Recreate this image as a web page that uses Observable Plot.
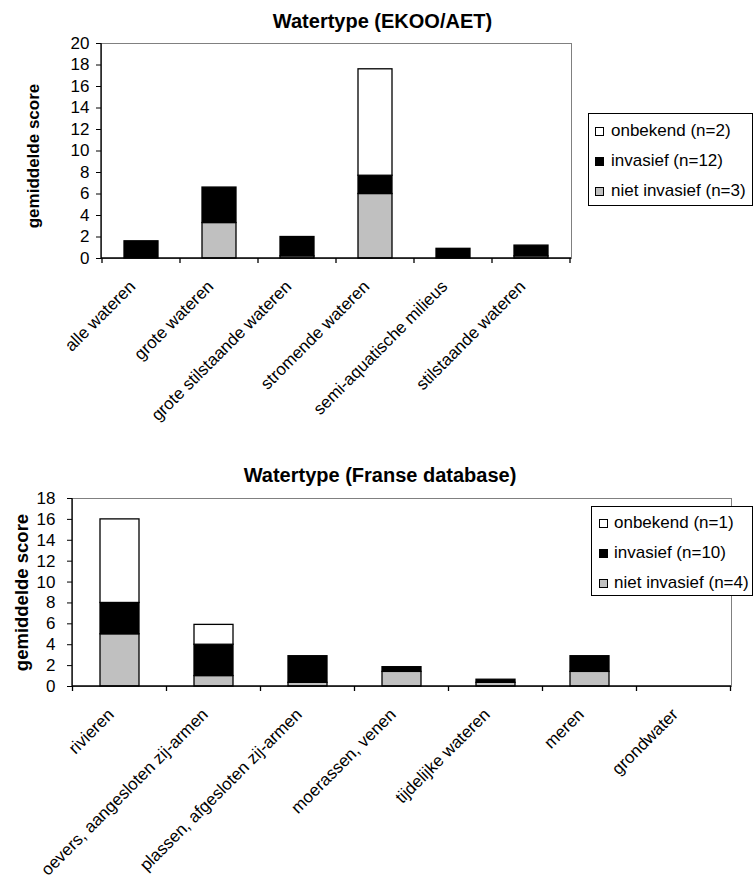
<!DOCTYPE html>
<html>
<head>
<meta charset="utf-8">
<script src="https://cdn.jsdelivr.net/npm/d3@7"></script>
<script src="https://cdn.jsdelivr.net/npm/@observablehq/plot@0.6"></script>
<style>
  body { margin: 0; background: #fff; }
  #page { position: relative; width: 753px; height: 882px; overflow: hidden; background: #fff;
          font-family: "Liberation Sans", Arial, sans-serif; }
  .chart { position: absolute; left: 0; }
  .legend { position: absolute; box-sizing: border-box; border: 1px solid #000; background: #fff;
            font-size: 17px; color: #000; }
  .legend .row { position: absolute; left: 0; height: 20px; display: flex; align-items: center; white-space: nowrap; }
  .legend .sw { box-sizing: border-box; width: 9px; height: 9px; border: 1px solid #000; }
</style>
</head>
<body>
<div id="page"></div>
<script>
// ---- Watertype (EKOO/AET) ----
const topCategories = ["alle wateren", "grote wateren", "grote stilstaande wateren", "stromende wateren", "semi-aquatische milieus", "stilstaande wateren"];
const topNietInvasief = [0, 3.3, 0.2, 6.0, 0, 0.2];
const topInvasief     = [1.6, 3.3, 1.8, 1.7, 0.9, 1.0];
const topOnbekend     = [0, 0, 0, 9.9, 0, 0];
const topSeries = ["niet invasief (n=3)", "invasief (n=12)", "onbekend (n=2)"];
const topTicks = [0, 2, 4, 6, 8, 10, 12, 14, 16, 18, 20];

// ---- Watertype (Franse database) ----
const bottomCategories = ["rivieren", "oevers, aangesloten zij-armen", "plassen, afgesloten zij-armen", "moerassen, venen", "tijdelijke wateren", "meren", "grondwater"];
const bottomNietInvasief = [5.0, 1.0, 0.35, 1.4, 0.35, 1.4, 0];
const bottomInvasief     = [3.0, 3.0, 2.55, 0.45, 0.3, 1.5, 0];
const bottomOnbekend     = [8.0, 1.9, 0, 0, 0, 0, 0];
const bottomSeries = ["niet invasief (n=4)", "invasief (n=10)", "onbekend (n=1)"];
const bottomTicks = [0, 2, 4, 6, 8, 10, 12, 14, 16, 18];

const seriesColors = ["#c0c0c0", "#000000", "#ffffff"];
const FONT = '"Liberation Sans", Arial, sans-serif';

// long table: one row per stacked segment
function segments(categories, series, values) {
  const rows = [];
  series.forEach((name, s) => categories.forEach((cat, i) => {
    if (values[s][i] > 0) rows.push({cat, series: name, value: values[s][i]});
  }));
  return rows;
}

// left and bottom axis lines plus category separator ticks
function axisLines(categories) {
  return (index, scales, values, dims) => {
    const x = scales.x, y = scales.y;
    const base = y(0);
    const frameTop = dims.marginTop;
    const left = dims.marginLeft, right = dims.width - dims.marginRight;
    const gap = (x.step() - x.bandwidth()) / 2;
    const bounds = categories.map(c => x(c) - gap);
    bounds.push(x(categories[categories.length - 1]) + x.bandwidth() + gap);
    const g = d3.create("svg:g").attr("stroke", "#000").attr("stroke-width", 1.3);
    g.append("line").attr("x1", left).attr("x2", left).attr("y1", frameTop).attr("y2", base);
    g.append("line").attr("x1", left).attr("x2", right).attr("y1", base).attr("y2", base);
    for (const b of bounds) g.append("line").attr("x1", b).attr("x2", b).attr("y1", base).attr("y2", base + 5);
    return g.node();
  };
}

function stackedChart(o) {
  const rows = segments(o.categories, o.series, o.values);
  return Plot.plot({
    width: 753,
    height: o.height,
    marginTop: o.margins[0], marginRight: o.margins[1], marginBottom: o.margins[2], marginLeft: o.margins[3],
    style: {fontFamily: FONT, fontSize: "17px", color: "#000", background: "transparent", overflow: "visible"},
    x: {domain: o.categories, paddingInner: o.pad, paddingOuter: o.pad / 2, axis: null},
    y: {domain: [0, o.ticks[o.ticks.length - 1]], ticks: o.ticks, tickSize: 5, tickPadding: o.tickPadding, label: null},
    color: {domain: o.series, range: seriesColors},
    marks: [
      Plot.frame({stroke: "#808080"}),
      Plot.barY(rows, {x: "cat", y: "value", fill: "series", stroke: "#000", strokeWidth: 1.3, order: o.series}),
      axisLines(o.categories),
      Plot.text(o.categories, {x: d => d, text: d => d, frameAnchor: "bottom", rotate: -45,
                               textAnchor: "end", lineAnchor: "bottom", dx: -5, dy: 29, fontSize: o.labelSize}),
      Plot.text(["gemiddelde score"], {text: d => d, frameAnchor: "left", rotate: -90, textAnchor: "middle",
                                       lineAnchor: "middle", dx: o.yLabelDx, dy: o.yLabelDy,
                                       fontWeight: "bold", fontSize: o.yLabelSize}),
      Plot.text([o.title], {text: d => d, frameAnchor: "top", textAnchor: "middle", lineAnchor: "middle",
                            dx: o.titleDx, dy: o.titleDy, fontWeight: "bold", fontSize: 20})
    ]
  });
}

function legend(series, box, rowsY, swLeft, textLeft) {
  const div = document.createElement("div");
  div.className = "legend";
  Object.assign(div.style, {left: box[0] + "px", top: box[1] + "px", width: box[2] + "px", height: box[3] + "px"});
  // listed top-down from the top segment of the stack
  series.slice().reverse().forEach((name, i) => {
    const row = document.createElement("div");
    row.className = "row";
    row.style.top = (rowsY[i] - 10) + "px";
    row.style.left = swLeft + "px";
    const sw = document.createElement("span");
    sw.className = "sw";
    sw.style.background = seriesColors[series.length - 1 - i];
    const label = document.createElement("span");
    label.textContent = name;
    label.style.marginLeft = (textLeft - swLeft - 9) + "px";
    row.append(sw, label);
    div.append(row);
  });
  return div;
}

const page = document.getElementById("page");

const chartEkoo = stackedChart({
  categories: topCategories, series: topSeries,
  values: [topNietInvasief, topInvasief, topOnbekend],
  ticks: topTicks, height: 430, margins: [43, 182, 172, 101], pad: 0.566, tickPadding: 7,
  title: "Watertype (EKOO/AET)", titleDx: 46, titleDy: -22,
  yLabelDx: -68, yLabelDy: 5, yLabelSize: 17, labelSize: 17
});
chartEkoo.classList.add("chart");
chartEkoo.style.top = "0px";
page.append(chartEkoo);

const chartFrans = stackedChart({
  categories: bottomCategories, series: bottomSeries,
  values: [bottomNietInvasief, bottomInvasief, bottomOnbekend],
  ticks: bottomTicks, height: 452, margins: [68, 22, 196, 72], pad: 0.58, tickPadding: 12,
  title: "Watertype (Franse database)", titleDx: -22, titleDy: -23,
  yLabelDx: -50, yLabelDy: 0, yLabelSize: 18.5, labelSize: 17
});
chartFrans.classList.add("chart");
chartFrans.style.top = "430px";
page.append(chartFrans);

page.append(legend(topSeries, [588, 113, 165, 93], [17, 47, 77], 6, 22));
page.append(legend(bottomSeries, [591, 506, 162, 90], [16, 46, 76], 7, 22));
</script>
</body>
</html>
